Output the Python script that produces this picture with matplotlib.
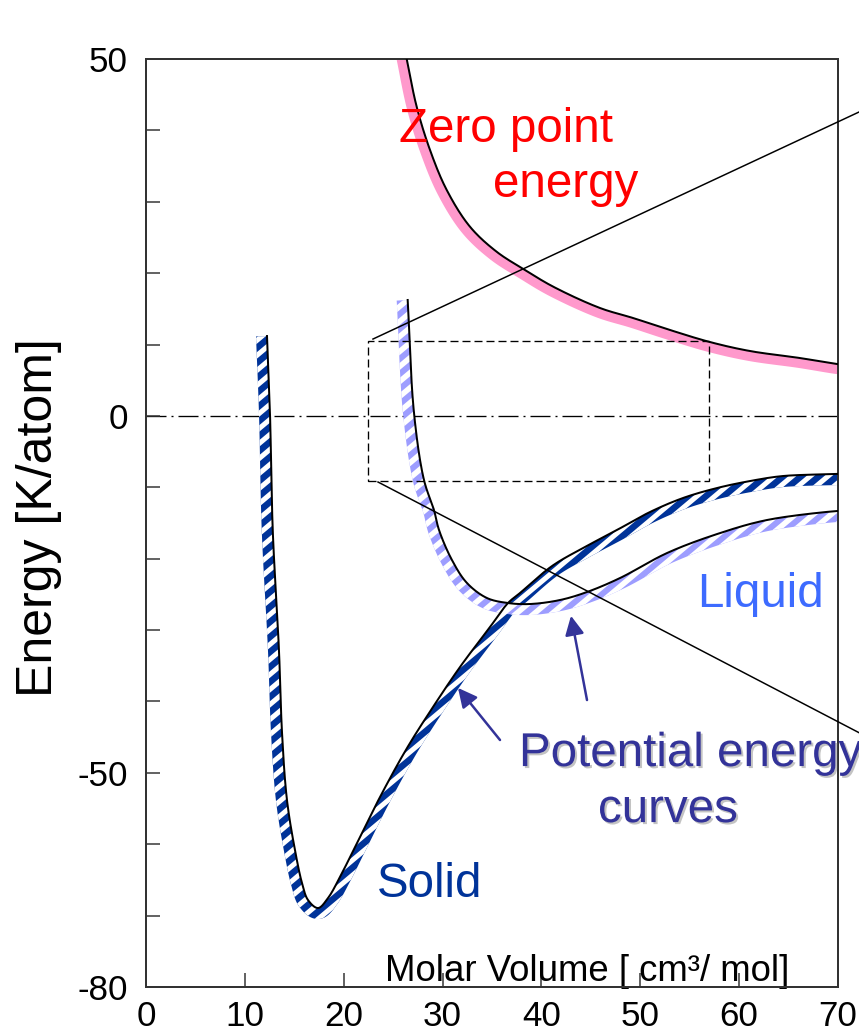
import numpy as np
import matplotlib
matplotlib.use('Agg')
import matplotlib.pyplot as plt
from matplotlib.patches import Polygon, Rectangle
from matplotlib.collections import LineCollection
import matplotlib.patheffects as pe

plt.rcParams.update({
    'font.family': 'Liberation Sans',
    'lines.scale_dashes': False,
})

# Potential energy of the solid phase [K/atom] vs molar volume [cm3/mol]
solid_v = [12.24, 12.54, 12.82, 13.45, 13.76, 14.26, 15.07, 15.78, 16.39, 17.40,
           18.41, 19.62, 21.34, 23.67, 26.40, 29.03, 31.76, 34.80, 36.62, 37.83,
           41.07, 44.20, 47.64, 50.98, 54.32, 57.76, 61.10, 64.43, 69.90, 70.5]
solid_e = [11.19, 0.41, -15.98, -32.80, -44.42, -53.81, -60.82, -65.44, -67.82, -68.94,
           -67.54, -64.60, -59.83, -53.39, -46.53, -40.78, -35.18, -29.57, -26.21, -24.81,
           -21.03, -18.51, -15.98, -13.46, -11.50, -10.10, -9.12, -8.42, -8.14, -8.10]

# Potential energy of the liquid phase
liquid_v = [26.47, 27.11, 28.12, 29.13, 29.64, 30.95, 32.47, 34.49, 36.62, 38.84,
            41.88, 44.61, 47.95, 52.70, 57.76, 62.82, 69.90, 70.5]
liquid_e = [16.24, 0.41, -8.98, -13.18, -15.98, -20.19, -23.41, -25.51, -26.21, -26.35,
            -25.79, -24.67, -22.71, -19.21, -16.55, -14.58, -13.32, -13.30]

# Zero point energy
zpe_v = [26.30, 27.38, 28.73, 30.42, 32.77, 35.47, 38.34, 41.20, 45.92, 49.26,
         52.70, 57.05, 61.10, 66.15, 69.90, 70.5]
zpe_e = [50.5, 43.32, 37.25, 31.65, 26.51, 23.00, 20.44, 18.10, 15.12, 13.72,
         12.17, 10.35, 9.09, 8.11, 7.27, 7.20]

# zoom box and the two lines leading out of it
box_v = (22.43, 56.95)
box_e = (-9.12, 10.50)
lead_upper = ([22.96, 72.12], [10.77, 42.57])
lead_lower = ([23.47, 72.12], [-9.26, -44.37])

# arrows: (tail, tip)
arrow_solid = ((35.81, -45.4), (31.56, -38.1))
arrow_liquid = ((44.61, -39.8), (42.99, -28.0))

x_ticks = list(range(0, 71, 10))
y_ticks = list(range(-80, 51, 10))
y_tick_labels = ['-80', '', '', '-50', '', '', '', '', '0', '', '', '', '', '50']

SOLID = '#003399'
LIQUID_BAND = '#9d9dff'
LIQUID_TEXT = '#3d6bff'
ZPE_BAND = '#ff99cc'
NOTE = '#333399'


def smooth_px(ax, xs, ys, n=24):
    # centripetal Catmull-Rom through the points, done in pixel space
    p = ax.transData.transform(np.column_stack([xs, ys]))
    p = np.vstack([2 * p[0] - p[1], p, 2 * p[-1] - p[-2]])
    out = []
    for i in range(1, len(p) - 2):
        p0, p1, p2, p3 = p[i - 1], p[i], p[i + 1], p[i + 2]
        t0 = 0.0
        t1 = t0 + np.linalg.norm(p1 - p0) ** 0.5
        t2 = t1 + np.linalg.norm(p2 - p1) ** 0.5
        t3 = t2 + np.linalg.norm(p3 - p2) ** 0.5
        t = np.linspace(t1, t2, n, endpoint=False)[:, None]
        a1 = (t1 - t) / (t1 - t0) * p0 + (t - t0) / (t1 - t0) * p1
        a2 = (t2 - t) / (t2 - t1) * p1 + (t - t1) / (t2 - t1) * p2
        a3 = (t3 - t) / (t3 - t2) * p2 + (t - t2) / (t3 - t2) * p3
        b1 = (t2 - t) / (t2 - t0) * a1 + (t - t0) / (t2 - t0) * a2
        b2 = (t3 - t) / (t3 - t1) * a2 + (t - t1) / (t3 - t1) * a3
        out.append((t2 - t) / (t2 - t1) * b1 + (t - t1) / (t2 - t1) * b2)
    out.append(p[-2][None])
    return np.vstack(out)


def curve(ax, xs, ys, width_px, color, stripes=False, step=15, stripe_px=5, angle=40):
    # black line with a strip of given pixel width on its right-hand side
    pts = smooth_px(ax, xs, ys)
    d = np.gradient(pts, axis=0)
    d /= np.linalg.norm(d, axis=1)[:, None]
    n = np.column_stack([d[:, 1], -d[:, 0]])
    outer = pts + n * width_px
    inv = ax.transData.inverted()
    poly_px = np.vstack([pts, outer[::-1]])
    strip = Polygon(inv.transform(poly_px), closed=True, facecolor=color,
                    edgecolor='none', zorder=2)
    ax.add_patch(strip)
    if stripes:
        # white slanted stripes cut to the strip
        k = np.tan(np.radians(angle))
        (x0, y0), (x1, y1) = poly_px.min(axis=0) - 5, poly_px.max(axis=0) + 5
        segs = []
        for c in np.arange(y0 - k * x1, y1 - k * x0, step):
            seg = np.array([[x0, k * x0 + c], [x1, k * x1 + c]])
            segs.append(inv.transform(seg))
        lc = LineCollection(segs, colors='white', linewidths=stripe_px * 72 / fig.dpi,
                            zorder=2.5)
        ax.add_collection(lc)
        lc.set_clip_path(strip)
    line = inv.transform(pts)
    ax.plot(line[:, 0], line[:, 1], color='black', lw=1.2, zorder=3)


fig = plt.figure(figsize=(859 / 120, 1033 / 120), dpi=120)
ax = fig.add_axes([146 / 859, 46 / 1033, 692 / 859, 928 / 1033])
ax.set_xlim(0, 70)
ax.set_ylim(-80, 50)

for s in ax.spines.values():
    s.set_linewidth(1.2)
    s.set_color('#333333')

ax.set_xticks(x_ticks)
ax.set_xticklabels([str(t) for t in x_ticks])
ax.set_yticks(y_ticks)
ax.set_yticklabels(y_tick_labels)
ax.tick_params(axis='both', direction='in', length=8.4, width=0.9, color='#333333',
               labelsize=21)
ax.tick_params(axis='x', pad=8)
ax.tick_params(axis='y', pad=11)

curve(ax, zpe_v, zpe_e, 10, ZPE_BAND)
curve(ax, solid_v, solid_e, 11, SOLID, stripes=True, stripe_px=5)
curve(ax, liquid_v, liquid_e, 11, LIQUID_BAND, stripes=True, stripe_px=5.5)
ax.set_xlim(0, 70)
ax.set_ylim(-80, 50)

ax.axhline(0, color='black', lw=0.8, ls=(0, (12, 3, 1.2, 3)), zorder=1)

ax.add_patch(Rectangle((box_v[0], box_e[0]), box_v[1] - box_v[0], box_e[1] - box_e[0],
                       fill=False, edgecolor='black', lw=0.8, ls=(0, (4.8, 2.4)), zorder=4))
ax.plot(*lead_upper, color='black', lw=0.9, clip_on=False, zorder=4)
ax.plot(*lead_lower, color='black', lw=0.9, clip_on=False, zorder=4)

for tail, tip in (arrow_solid, arrow_liquid):
    ax.annotate('', xy=tip, xytext=tail,
                arrowprops=dict(arrowstyle='-|>', color=NOTE, lw=1.5,
                                mutation_scale=24, shrinkA=0, shrinkB=0))

ax.text(25.59, 38.37, 'Zero point', color='red', fontsize=28.5, va='baseline', zorder=5)
ax.text(35.10, 30.67, 'energy', color='red', fontsize=28.5, va='baseline', zorder=5)
ax.text(55.74, -26.77, 'Liquid', color=LIQUID_TEXT, fontsize=28.5, va='baseline')
ax.text(23.37, -67.40, 'Solid', color=SOLID, fontsize=28.5, va='baseline')
shadow = [pe.SimplePatchShadow(offset=(1.2, -1.2), shadow_rgbFace='#888888', alpha=0.5),
          pe.Normal()]
ax.text(37.73, -49.05, 'Potential energy', color=NOTE, fontsize=28.5, va='baseline',
        clip_on=False, path_effects=shadow)
ax.text(45.72, -56.90, 'curves', color=NOTE, fontsize=28.5, va='baseline',
        path_effects=shadow)

ax.set_xlabel('Molar Volume [ cm\u00b3/ mol]', fontsize=22, ha='left', va='baseline')
ax.xaxis.set_label_coords(0.3454, 0.0065)
ax.set_ylabel('Energy [K/atom]', fontsize=30)
ax.yaxis.set_label_coords(-0.1207, 0.506)

fig.savefig('out.png', dpi=120)
